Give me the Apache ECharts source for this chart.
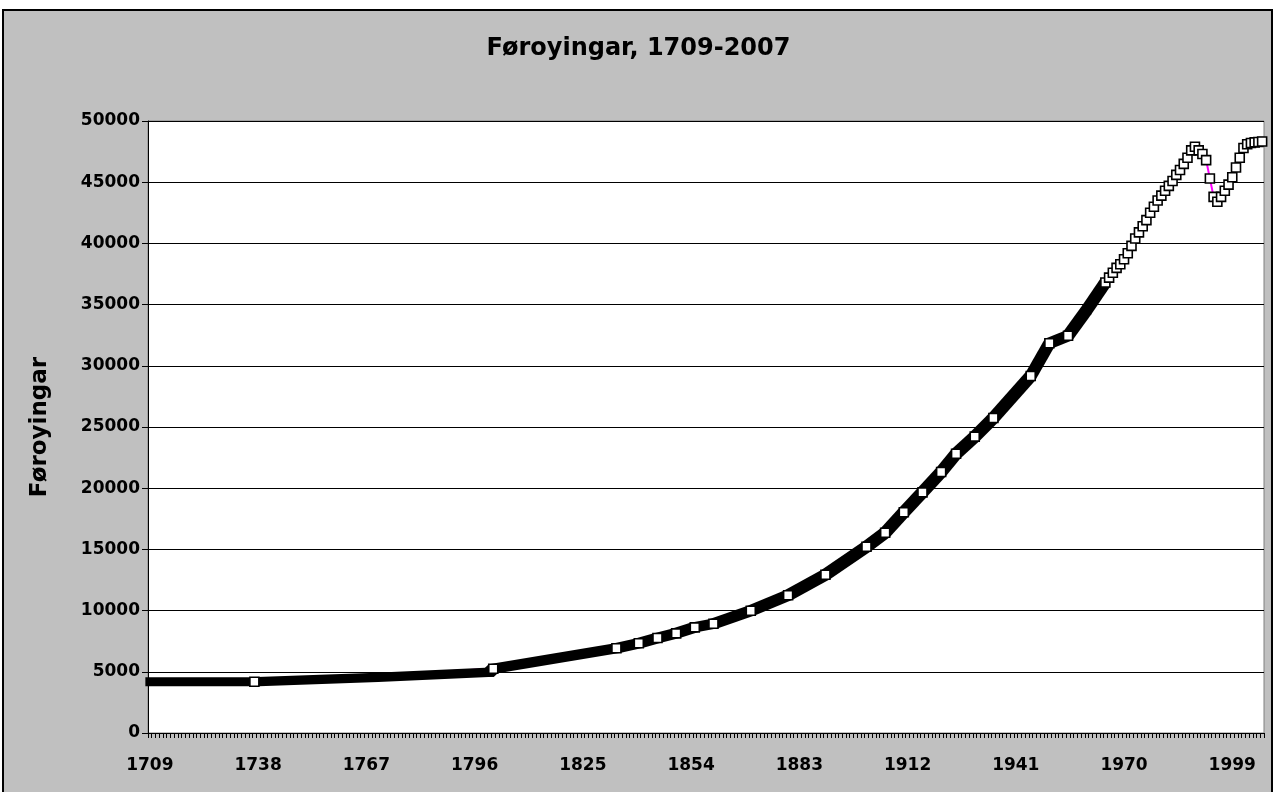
<!DOCTYPE html>
<html>
<head>
<meta charset="utf-8">
<script src="https://cdn.jsdelivr.net/npm/echarts@6/dist/echarts.min.js"></script>
<style>
  html, body { margin: 0; padding: 0; background: #fff; }
  #chart { width: 1277px; height: 792px; }
</style>
</head>
<body>
<div id="chart"></div>
<script>
// ---- DATA ----
const firstYear = 1709;
const lastYear = 2007;
const categories = [];
for (let y = firstYear; y <= lastYear; y++) categories.push(String(y));

// Anchor points of the dense black band (years drawn with black markers)
const bandYears  = [1709, 1737, 1769, 1800, 1801, 1834, 1840, 1845, 1850, 1855, 1860, 1870, 1880, 1890,
                    1901, 1906, 1911, 1916, 1921, 1925, 1930, 1935, 1945, 1950, 1955, 1960, 1965];
const bandValues = [4180, 4190, 4530, 4960, 5253, 6920, 7330, 7760, 8140, 8630, 8930, 9990, 11250, 12930,
                    15220, 16360, 18030, 19660, 21320, 22820, 24210, 25740, 29170, 31840, 32450, 34560, 36800];

// Years shown with white (observed) markers
const markerYears  = [1737, 1801, 1834, 1840, 1845, 1850, 1855, 1860, 1870, 1880, 1890,
                      1901, 1906, 1911, 1916, 1921, 1925, 1930, 1935, 1945, 1950, 1955,
                      1965, 1966, 1967, 1968, 1969, 1970, 1971, 1972, 1973, 1974,
                      1975, 1976, 1977, 1978, 1979, 1980, 1981, 1982, 1983, 1984,
                      1985, 1986, 1987, 1988, 1989, 1990, 1991, 1992, 1993, 1994,
                      1995, 1996, 1997, 1998, 1999, 2000, 2001, 2002, 2003, 2004,
                      2005, 2006, 2007];
const markerValues = [4190, 5253, 6920, 7330, 7760, 8140, 8630, 8930, 9990, 11250, 12930,
                      15220, 16360, 18030, 19660, 21320, 22820, 24210, 25740, 29170, 31840, 32450,
                      36800, 37200, 37600, 38000, 38300, 38700, 39200, 39800, 40400, 40900,
                      41400, 41900, 42500, 43000, 43500, 43900, 44300, 44700, 45100, 45600,
                      46000, 46500, 47000, 47600, 47900, 47600, 47300, 46800, 45300, 43800,
                      43400, 43800, 44300, 44800, 45400, 46200, 47000, 47800, 48100, 48200,
                      48250, 48280, 48330];

const yTicks = { min: 0, max: 50000, interval: 5000 };
const titleText = 'Føroyingar, 1709-2007';
const yAxisName = 'Føroyingar';

// ---- CHART ----
const FONT = 'DejaVu Sans';
const chart = echarts.init(document.getElementById('chart'), null, { renderer: 'canvas' });

const bandData = bandYears.map((y, i) => [String(y), bandValues[i]]);
const markerData = markerYears.map((y, i) => [String(y), markerValues[i]]);

function convexHull(pts) {
  const p = pts.slice().sort((a, b) => a[0] - b[0] || a[1] - b[1]);
  const cross = (o, a, b) => (a[0] - o[0]) * (b[1] - o[1]) - (a[1] - o[1]) * (b[0] - o[0]);
  const lower = [];
  for (const q of p) { while (lower.length >= 2 && cross(lower[lower.length - 2], lower[lower.length - 1], q) <= 0) lower.pop(); lower.push(q); }
  const upper = [];
  for (let i = p.length - 1; i >= 0; i--) { const q = p[i]; while (upper.length >= 2 && cross(upper[upper.length - 2], upper[upper.length - 1], q) <= 0) upper.pop(); upper.push(q); }
  upper.pop(); lower.pop();
  return lower.concat(upper);
}

const H = 4.5; // half size of the black square markers forming the band

const option = {
  backgroundColor: '#ffffff',
  animation: false,
  graphic: [{
    type: 'rect', z: -100, silent: true,
    shape: { x: 3, y: 10, width: 1269, height: 800 },
    style: { fill: '#C0C0C0', stroke: '#000000', lineWidth: 2 }
  }],
  title: {
    text: titleText,
    left: 'center',
    top: 32,
    textStyle: { fontFamily: FONT, fontWeight: 'bold', fontSize: 24, color: '#000' }
  },
  grid: {
    left: 148, top: 121, width: 1116, height: 612,
    show: true, backgroundColor: '#ffffff', borderColor: '#808080', borderWidth: 1
  },
  xAxis: {
    type: 'category',
    data: categories,
    boundaryGap: true,
    axisLine: { show: true, lineStyle: { color: '#000', width: 1 } },
    axisTick: { show: true, interval: 0, length: 5, lineStyle: { color: '#000', width: 1 } },
    axisLabel: {
      interval: 28, margin: 24, hideOverlap: false,
      fontFamily: FONT, fontWeight: 'bold', fontSize: 17, color: '#000'
    },
    splitLine: { show: false }
  },
  yAxis: {
    type: 'value',
    min: yTicks.min, max: yTicks.max, interval: yTicks.interval,
    name: yAxisName,
    nameLocation: 'middle',
    nameGap: 96,
    nameRotate: 90,
    nameTextStyle: { fontFamily: FONT, fontWeight: 'bold', fontSize: 23, color: '#000' },
    axisLine: { show: true, lineStyle: { color: '#000', width: 1 } },
    axisTick: { show: true, length: 6, lineStyle: { color: '#000', width: 1 } },
    axisLabel: {
      margin: 8, fontFamily: FONT, fontWeight: 'bold', fontSize: 17, color: '#000',
      formatter: v => String(v)
    },
    splitLine: { show: true, lineStyle: { color: '#000', width: 1 } }
  },
  series: [
    {
      name: 'line',
      type: 'line',
      data: markerData,
      z: 1,
      showSymbol: false,
      lineStyle: { color: '#FF00FF', width: 2 },
      silent: true
    },
    {
      name: 'band',
      type: 'custom',
      data: bandData,
      z: 2,
      clip: false,
      silent: true,
      renderItem: function (params, api) {
        const i = params.dataIndexInside;
        const p1 = api.coord([api.value(0, i), api.value(1, i)]);
        let pts;
        if (i < params.dataInsideLength - 1) {
          const p2 = api.coord([api.value(0, i + 1), api.value(1, i + 1)]);
          pts = [];
          [p1, p2].forEach(p => {
            pts.push([p[0] - H, p[1] - H], [p[0] + H, p[1] - H], [p[0] + H, p[1] + H], [p[0] - H, p[1] + H]);
          });
          pts = convexHull(pts);
        } else {
          pts = [[p1[0] - H, p1[1] - H], [p1[0] + H, p1[1] - H], [p1[0] + H, p1[1] + H], [p1[0] - H, p1[1] + H]];
        }
        return { type: 'polygon', shape: { points: pts }, style: { fill: '#000' } };
      }
    },
    {
      name: 'Føroyingar',
      type: 'scatter',
      data: markerData,
      z: 3,
      symbol: 'rect',
      symbolSize: 9,
      itemStyle: { color: '#ffffff', borderColor: '#000000', borderWidth: 1.6, opacity: 1 },
      silent: true
    }
  ]
};
chart.setOption(option);
</script>
</body>
</html>
